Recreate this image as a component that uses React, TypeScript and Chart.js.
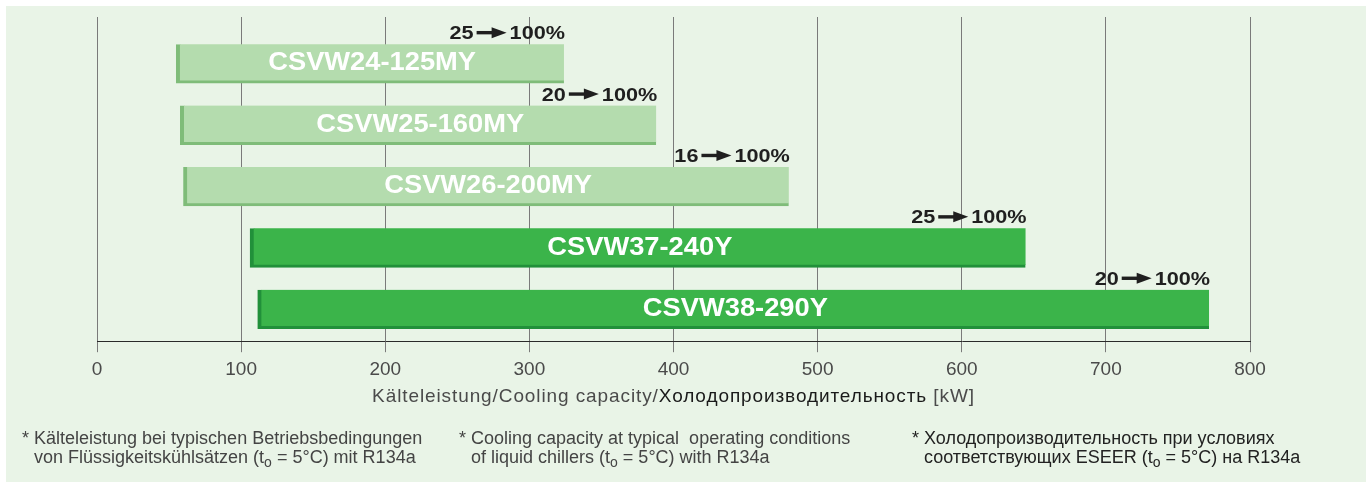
import React, { useEffect, useRef } from "react";
import { Chart, registerables } from "chart.js";

Chart.register(...registerables);

const categories = ["CSVW24-125MY", "CSVW25-160MY", "CSVW26-200MY", "CSVW37-240Y", "CSVW38-290Y"];
const rangeStart = [55, 57.8, 60, 106.2, 111.5];
const rangeEnd = [324, 388, 480, 644.3, 771.6];
const minPercent = [25, 20, 16, 25, 20];
const maxPercent = [100, 100, 100, 100, 100];
const xTickValues = [0, 100, 200, 300, 400, 500, 600, 700, 800];

const LIGHT_FILL = "#b4dcae";
const LIGHT_EDGE = "#7fbc79";
const DARK_FILL = "#3bb44a";
const DARK_EDGE = "#21903a";
const FONT = "'Liberation Sans', Arial, Helvetica, sans-serif";

const isLight = (name: string) => name.endsWith("MY");

const labelPlugin = {
  id: "barLabels",
  afterDatasetsDraw(chart: any) {
    const ctx = chart.ctx;
    const meta = chart.getDatasetMeta(0);
    meta.data.forEach((bar: any, i: number) => {
      const left = Math.min(bar.x, bar.base);
      const right = Math.max(bar.x, bar.base);
      const top = bar.y - bar.height / 2;
      const cy = top + (bar.height - 3) / 2;
      ctx.save();
      ctx.fillStyle = "#ffffff";
      ctx.font = `bold 26.5px ${FONT}`;
      ctx.textAlign = "center";
      ctx.textBaseline = "middle";
      ctx.translate((left + right) / 2 + 2, cy + 1);
      ctx.scale(1.03, 1);
      ctx.fillText(categories[i], 0, 0);
      ctx.restore();

      // range label above bar end: "25 -> 100%"
      ctx.save();
      ctx.fillStyle = "#1f1f1f";
      ctx.font = `bold 18.5px ${FONT}`;
      ctx.textBaseline = "alphabetic";
      ctx.textAlign = "left";
      const sx = 1.17;
      const a = String(minPercent[i]);
      const b = `${maxPercent[i]}%`;
      const wa = ctx.measureText(a).width * sx;
      const wb = ctx.measureText(b).width * sx;
      const arrowW = 30;
      const gap = 3;
      const total = wa + gap + arrowW + gap + wb;
      const baseY = top - 5;
      let x = right - total + 1;
      ctx.save();
      ctx.translate(x, baseY);
      ctx.scale(sx, 1);
      ctx.fillText(a, 0, 0);
      ctx.restore();
      x += wa + gap;
      const ay = baseY - 6.5;
      ctx.fillRect(x, ay - 1.7, arrowW - 13, 3.4);
      ctx.beginPath();
      ctx.moveTo(x + arrowW - 15, ay - 5.5);
      ctx.lineTo(x + arrowW, ay);
      ctx.lineTo(x + arrowW - 15, ay + 5.5);
      ctx.closePath();
      ctx.fill();
      x += arrowW + gap;
      ctx.save();
      ctx.translate(x, baseY);
      ctx.scale(sx, 1);
      ctx.fillText(b, 0, 0);
      ctx.restore();
      ctx.restore();
    });
  },
};

export default function App() {
  const canvasRef = useRef<HTMLCanvasElement | null>(null);

  useEffect(() => {
    document.body.style.margin = "0";
    const canvas = canvasRef.current;
    if (!canvas) return;
    const chart = new Chart(canvas, {
      type: "bar",
      data: {
        datasets: [
          {
            data: categories.map((_, i) => ({ y: i, x: [rangeStart[i], rangeEnd[i]] })) as any,
            backgroundColor: categories.map((c) => (isLight(c) ? LIGHT_FILL : DARK_FILL)),
            borderColor: categories.map((c) => (isLight(c) ? LIGHT_EDGE : DARK_EDGE)),
            borderWidth: { left: 4, bottom: 3, top: 0, right: 0 } as any,
            borderSkipped: false,
            barThickness: 39,
          },
        ],
      },
      options: {
        indexAxis: "y",
        responsive: false,
        animation: false,
        maintainAspectRatio: false,
        layout: { padding: { left: 97, right: 122, top: 17, bottom: 101 } },
        plugins: { legend: { display: false }, tooltip: { enabled: false }, title: { display: false } },
        scales: {
          y: {
            type: "linear",
            reverse: true,
            offset: false,
            min: -0.76,
            max: 4.52,
            display: false,
          },
          x: {
            type: "linear",
            min: 0,
            max: 800,
            afterBuildTicks: (scale: any) => {
              scale.ticks = xTickValues.map((v) => ({ value: v }));
            },
            grid: {
              color: "#7a7a7a",
              lineWidth: 1,
              tickLength: 11,
              drawOnChartArea: true,
            },
            border: { color: "#2a2a2a", width: 1 },
            ticks: {
              color: "#4a4a4a",
              font: { family: FONT, size: 19 },
              padding: 6,
            },
          },
        },
      },
      plugins: [labelPlugin],
    });
    return () => chart.destroy();
  }, []);

  const note: React.CSSProperties = {
    position: "absolute",
    top: 429,
    fontFamily: FONT,
    fontSize: 18,
    lineHeight: "19px",
    color: "#444",
    paddingLeft: 12,
    textIndent: -12,
    whiteSpace: "nowrap",
  };
  const sub: React.CSSProperties = { fontSize: 14, verticalAlign: "-4px", lineHeight: 0 };

  return (
    <div style={{ position: "absolute", left: 0, top: 0, width: 1372, height: 488, background: "#ffffff" }}>
      <div style={{ position: "absolute", left: 6, top: 6, width: 1360, height: 476, background: "#e9f4e7" }} />
      <canvas ref={canvasRef} width={1372} height={488} style={{ position: "absolute", left: 0, top: 0 }} />
      <div
        style={{
          position: "absolute",
          left: 97,
          width: 1153,
          top: 385,
          textAlign: "center",
          fontFamily: FONT,
          fontSize: 19,
          letterSpacing: "0.9px",
          color: "#4a4a4a",
          whiteSpace: "nowrap",
        }}
      >
        Kälteleistung/Cooling capacity/<span style={{ color: "#1a1a1a" }}>Холодопроизводительность</span> [kW]
      </div>
      <div style={{ ...note, left: 22 }}>
        * Kälteleistung bei typischen Betriebsbedingungen
        <br />
        von Flüssigkeitskühlsätzen (t<span style={sub}>o</span> = 5°C) mit R134a
      </div>
      <div style={{ ...note, left: 459 }}>
        * Cooling capacity at typical&nbsp; operating conditions
        <br />
        of liquid chillers (t<span style={sub}>o</span> = 5°C) with R134a
      </div>
      <div style={{ ...note, left: 912, color: "#222" }}>
        * Холодопроизводительность при условиях
        <br />
        соответствующих ESEER (t<span style={sub}>o</span> = 5°C) на R134a
      </div>
    </div>
  );
}
